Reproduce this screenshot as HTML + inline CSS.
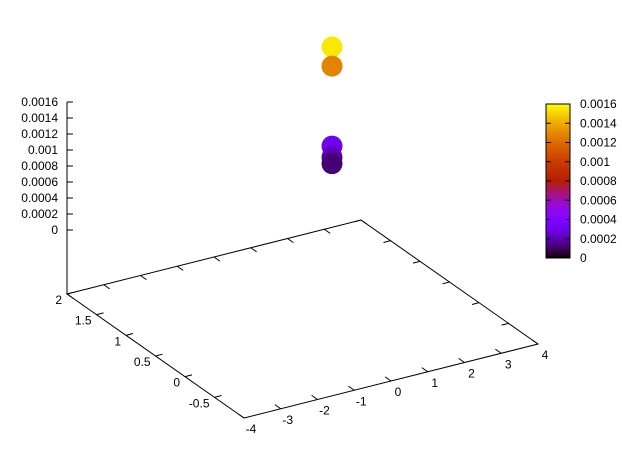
<!DOCTYPE html>
<html><head><meta charset="utf-8"><style>
html,body{margin:0;padding:0;background:#fff;}
svg text{font-family:"Liberation Sans",sans-serif;font-size:12px;fill:#000;}
</style></head><body>
<svg id="chart" width="622" height="468" viewBox="0 0 622 468" xmlns="http://www.w3.org/2000/svg"></svg>
<script>
const xTicks=[-4,-3,-2,-1,0,1,2,3,4];
const yTicks=[-0.5,0,0.5,1,1.5,2];
const zTicks=[0,0.0002,0.0004,0.0006,0.0008,0.001,0.0012,0.0014,0.0016];
const zTickLabels=["0","0.0002","0.0004","0.0006","0.0008","0.001","0.0012","0.0014","0.0016"];
const ptX=[0,0,0,0,0];
const ptY=[0,0,0,0,0];
const ptZ=[0.00286,0.00262,0.00162,0.00148,0.00140];
const ptC=[0.00155,0.00128,0.0003,0.0002,0.00012];

const svg=document.getElementById('chart');
const NS='http://www.w3.org/2000/svg';
function mk(tag,attrs,parent){const e=document.createElementNS(NS,tag);for(const k in attrs)e.setAttribute(k,attrs[k]);(parent||svg).appendChild(e);return e;}
function P(x,y,z){const fx=(x+4)/8, fy=(y+1)/3;
  return [244+fx*294+fy*(-177), 418+fx*(-74)+fy*(-124)-64-z*80000];}
function base(x,y){const p=P(x,y,0);return [p[0],p[1]+64];}
function zS(z){return 230-z*80000;}
function pal(t){t=Math.max(0,Math.min(1,t));const r=Math.sqrt(t),g=t*t*t,b=Math.max(0,Math.sin(2*Math.PI*t));
  return `rgb(${Math.round(r*255)},${Math.round(g*255)},${Math.round(b*255)})`;}
const line={stroke:'#000','stroke-width':1,fill:'none'};
const c=[base(-4,-1),base(4,-1),base(4,2),base(-4,2)];
const bx=mk('polygon',Object.assign({points:c.map(p=>p.join(',')).join(' ')},line));


const za=mk('line',Object.assign({x1:67,y1:294,x2:67,y2:zS(0.0016)},line));


zTicks.forEach((z,i)=>{const y=zS(z);
  const t=mk('line',Object.assign({x1:67,y1:y,x2:73,y2:y},line));
  
  
  const l=mk('text',{x:58,y:y+4,'text-anchor':'end'});l.textContent=zTickLabels[i];
  
  
});
xTicks.forEach(x=>{const a=base(x,-1),b=base(x,2);
  const t=mk('line',Object.assign({x1:a[0],y1:a[1],x2:a[0]-5.9,y2:a[1]-4.1},line));
  
  
  const t2=mk('line',Object.assign({x1:b[0],y1:b[1],x2:b[0]+5.9,y2:b[1]+4.1},line));
  
  
  const l=mk('text',{x:a[0]+7,y:a[1]+15,'text-anchor':'middle'});l.textContent=String(x);
  
  
});
yTicks.forEach(y=>{const a=base(-4,y),b=base(4,y);
  const t=mk('line',Object.assign({x1:a[0],y1:a[1],x2:a[0]+7,y2:a[1]-1.8},line));
  
  
  const t2=mk('line',Object.assign({x1:b[0],y1:b[1],x2:b[0]-7,y2:b[1]+1.8},line));
  
  
  const l=mk('text',{x:a[0]-5,y:a[1]+10,'text-anchor':'end'});l.textContent=String(y);
  
  
});
ptX.forEach((x,i)=>{const p=P(x,ptY[i],ptZ[i]);
  const e=mk('circle',{cx:p[0],cy:p[1],r:10.5,fill:pal(ptC[i]/0.0016)});
  
  
});
const defs=mk('defs',{});
const g=mk('linearGradient',{id:'cbg',x1:0,y1:1,x2:0,y2:0},defs);
for(let i=0;i<=40;i++){mk('stop',{offset:i/40,'stop-color':pal(i/40)},g);}
const cb=mk('rect',{x:546,y:104,width:24,height:154,fill:'url(#cbg)',stroke:'#000','stroke-width':1});


zTicks.forEach((z,i)=>{const y=258-z/0.0016*154;
  const t=mk('line',Object.assign({x1:546,y1:y,x2:551,y2:y},line));
  
  
  const t2=mk('line',Object.assign({x1:565,y1:y,x2:570,y2:y},line));
  
  
  const l=mk('text',{x:580,y:y+4});l.textContent=zTickLabels[i];
  
  
});
</script>
</body></html>
